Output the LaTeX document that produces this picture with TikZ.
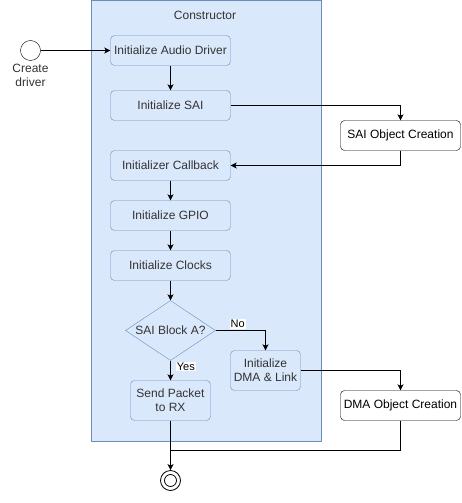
\documentclass[tikz,border=0pt]{standalone}
\usepackage{fontspec}
\setmainfont{Liberation Sans}
\usetikzlibrary{arrows.meta,shapes.geometric}
\definecolor{bfill}{HTML}{DAE8FC}
\definecolor{bstroke}{HTML}{6C8EBF}
\definecolor{tgray}{HTML}{333333}
\tikzset{
  x=1pt,y=-1pt,
  every node/.style={font=\fontsize{12}{14}\selectfont, text=tgray},
  bluebox/.style={draw=bstroke, fill=bfill, rounded corners=4pt, minimum width=120pt, minimum height=30pt, inner sep=0pt, align=center},
  whitebox/.style={draw=black, fill=white, rounded corners=4pt, minimum width=120pt, minimum height=30pt, inner sep=0pt, align=center, text=black},
  arr/.style={draw=black, line width=0.8pt, -{Stealth[length=6pt,width=6pt,inset=1.5pt]}},
  ln/.style={draw=black, line width=0.8pt},
  lbl/.style={fill=white, inner sep=1pt, font=\fontsize{11}{13}\selectfont, text=black}
}
\begin{document}
\begin{tikzpicture}
\useasboundingbox (0,0) rectangle (461,503);
% container
\node[draw=bstroke, fill=bfill, minimum width=230pt, minimum height=440pt, inner sep=0pt, anchor=north west] (ctr) at (90.5,0.5) {};
\node (ctrlbl) at (205,15) {Constructor};
% start
\node[draw=black, fill=white, circle, minimum size=20pt, inner sep=0pt] (start) at (30.5,50.5) {};
\node[align=center, font=\fontsize{12}{14}\selectfont] (startlbl) at (30.5,75) {Create\\driver};
% boxes
\node[bluebox] (audio) at (170.5,50.5) {Initialize Audio Driver};
\node[bluebox] (sai) at (170.5,105.5) {Initialize SAI};
\node[bluebox] (cb) at (170.5,165.5) {Initializer Callback};
\node[bluebox] (gpio) at (170.5,215.5) {Initialize GPIO};
\node[bluebox] (clk) at (170.5,265.5) {Initialize Clocks};
\node[diamond, draw=bstroke, fill=bfill, minimum width=90pt, minimum height=60pt, inner sep=0pt, aspect=1.5] (dec) at (170.5,330.5) {SAI Block A?};
\node[bluebox, minimum width=80pt, minimum height=40pt] (send) at (170.5,400.5) {Send Packet\\to RX};
\node[bluebox, minimum width=70pt, minimum height=40pt] (dma) at (265.5,370.5) {Initialize\\DMA \& Link};
\node[whitebox] (saiobj) at (400.5,135.5) {SAI Object Creation};
\node[whitebox] (dmaobj) at (400.5,405.5) {DMA Object Creation};
% end
\node[draw=black, fill=white, circle, minimum size=20pt, inner sep=0pt, line width=0.8pt] (endc) at (170.5,480.5) {};
\node[draw=black, fill=white, circle, minimum size=12pt, inner sep=0pt, line width=0.8pt] (endi) at (170.5,480.5) {};
\coordinate (join) at (170.5,450.5);
% connectors
\draw[arr] (start) -- (audio);
\draw[arr] (audio) -- (sai);
\draw[arr] (sai.east) -| (saiobj.north);
\draw[arr] (saiobj.south) |- (cb.east);
\draw[arr] (cb) -- (gpio);
\draw[arr] (gpio) -- (clk);
\draw[arr] (clk) -- (dec);
\draw[arr] (dec.east) -| node[lbl, pos=0.22, above=1pt] {No} (dma.north);
\draw[arr] (dec.south) -- node[lbl, pos=0.3, right=5pt] {Yes} (send.north);
\draw[arr] (dma.east) -| (dmaobj.north);
\draw[ln] (dmaobj.south) |- (join);
\draw[arr] (send.south) -- (endc.north);
\end{tikzpicture}
\end{document}
